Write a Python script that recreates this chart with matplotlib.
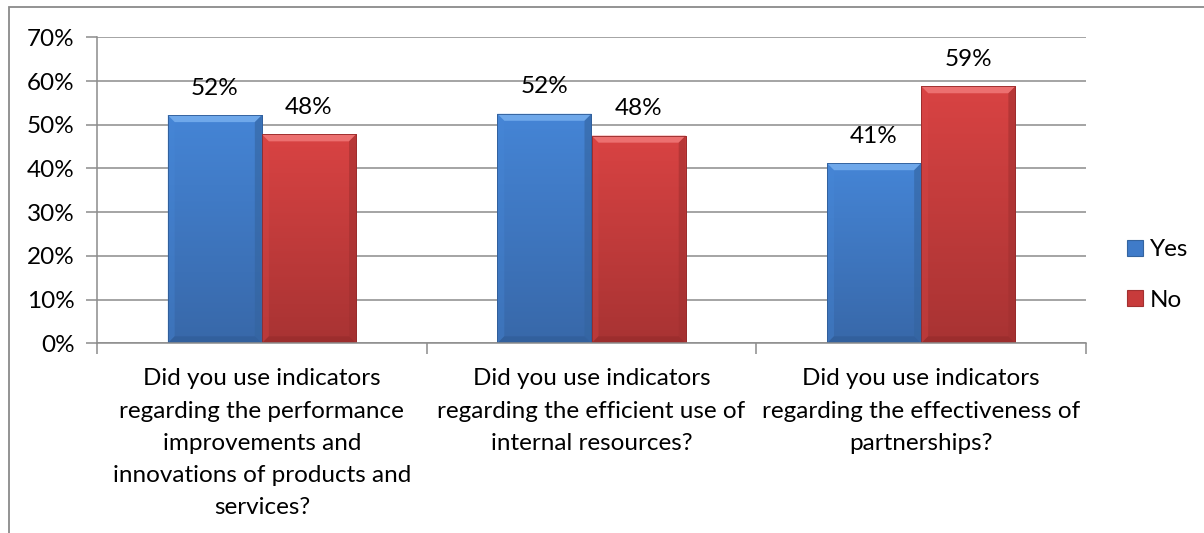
import numpy as np
import matplotlib
matplotlib.use("Agg")
import matplotlib.pyplot as plt
from matplotlib.patches import Polygon, Rectangle, Patch
from matplotlib.colors import LinearSegmentedColormap

# ── Data ──────────────────────────────────────────────────────────────────────
CATEGORIES = [
    "Did you use indicators\nregarding the performance\nimprovements and\ninnovations of products and\nservices?",
    "Did you use indicators\nregarding the efficient use of\ninternal resources?",
    "Did you use indicators\nregarding the effectiveness of\npartnerships?",
]
SERIES   = ["Yes", "No"]
YES_VALS = [52.2, 52.5, 41.2]
NO_VALS  = [47.8, 47.5, 58.8]
Y_TICKS  = [0, 10, 20, 30, 40, 50, 60, 70]

# ── Style ─────────────────────────────────────────────────────────────────────
FONT = "Lato"
FS = 17.5
# (face top, face bottom, top bevel, left bevel, right bevel, bottom bevel, legend)
STYLE = {
    "Yes": ("#4585D6", "#3868A9", "#6FA8EA", "#4788D8", "#34649F", "#2F5B95", "#3F7BC9"),
    "No":  ("#D94343", "#A83333", "#EC7070", "#DA4747", "#A23030", "#952A2A", "#C83B3B"),
}
BEVEL_PX = 7

plt.rcParams["font.family"] = [FONT, "DejaVu Sans"]

fig = plt.figure(figsize=(12.04, 5.33), dpi=100)
fig.patch.set_facecolor("white")
ax = fig.add_axes([97 / 1204, 1 - 343.3 / 533, (1086 - 97) / 1204, (343.3 - 37.3) / 533])

# outer chart border (right/bottom edges lie beyond the image)
fig.patches.append(Rectangle((9 / 1204, -0.1), 1.2, 1 - 7 / 533 + 0.1,
                             transform=fig.transFigure, fill=False,
                             edgecolor="#8a8a8a", linewidth=1.3))

x = np.arange(len(CATEGORIES))
width = 1 / 3.5  # Excel gap width 150%
ax.set_xlim(-0.5, len(CATEGORIES) - 0.5)
ax.set_ylim(0, 70)

bars = {}
bars["Yes"] = ax.bar(x - width / 2, YES_VALS, width, color=STYLE["Yes"][0], zorder=2, linewidth=0)
bars["No"] = ax.bar(x + width / 2, NO_VALS, width, color=STYLE["No"][0], zorder=2, linewidth=0)

# pixel → data conversion for bevels
fig.canvas.draw()
bb = ax.get_window_extent()
dx = BEVEL_PX * (ax.get_xlim()[1] - ax.get_xlim()[0]) / bb.width
dy = BEVEL_PX * (ax.get_ylim()[1] - ax.get_ylim()[0]) / bb.height

grad = np.linspace(1, 0, 256).reshape(-1, 1)
for name, cont in bars.items():
    ftop, fbot, ctop, cleft, cright, cbot, _ = STYLE[name]
    cmap = LinearSegmentedColormap.from_list(name, [fbot, ftop])
    for b in cont:
        x0, w, h = b.get_x(), b.get_width(), b.get_height()
        x1 = x0 + w
        im = ax.imshow(grad, extent=(x0, x1, 0, h), aspect="auto", cmap=cmap,
                       vmin=0, vmax=1, zorder=2.1, interpolation="bilinear")
        im.set_clip_path(b)
        # bevel facets
        ax.add_patch(Polygon([(x0, h), (x1, h), (x1 - dx, h - dy), (x0 + dx, h - dy)],
                             closed=True, facecolor=ctop, edgecolor="none", zorder=2.2))
        ax.add_patch(Polygon([(x0, 0), (x0, h), (x0 + dx, h - dy), (x0 + dx, dy)],
                             closed=True, facecolor=cleft, edgecolor="none", zorder=2.2, alpha=0.35))
        ax.add_patch(Polygon([(x1, 0), (x1, h), (x1 - dx, h - dy), (x1 - dx, dy)],
                             closed=True, facecolor=cright, edgecolor="none", zorder=2.2, alpha=0.6))
        ax.add_patch(Polygon([(x0, 0), (x1, 0), (x1 - dx, dy), (x0 + dx, dy)],
                             closed=True, facecolor=cbot, edgecolor="none", zorder=2.2, alpha=0.6))
        ax.add_patch(Rectangle((x0, 0), w, h, fill=False, edgecolor=cbot,
                               linewidth=0.6, zorder=2.3))
        ax.text(x0 + w / 2, h + 27 * (70 / bb.height), f"{h:.0f}%", ha="center", va="center",
                fontsize=FS, color="black", zorder=3)

ax.set_xlim(-0.5, len(CATEGORIES) - 0.5)
ax.set_ylim(0, 70)

# grid and axes
ax.set_yticks(Y_TICKS)
ax.set_yticklabels([f"{t}%" for t in Y_TICKS], fontsize=FS)
ax.yaxis.grid(True, color="#8c8c8c", linewidth=1.1, zorder=0)
ax.set_axisbelow(True)
ax.tick_params(axis="y", length=8, width=1.1, color="#8c8c8c", pad=8, labelcolor="black")

ax.set_xticks(x)
ax.set_xticklabels(CATEGORIES, fontsize=FS, linespacing=1.66)
ax.set_xticks(np.arange(-0.5, len(CATEGORIES)), minor=True)
ax.tick_params(axis="x", which="major", length=0, pad=18, labelcolor="black")
ax.tick_params(axis="x", which="minor", length=8, width=1.1, color="#8c8c8c")

for s in ["top", "right"]:
    ax.spines[s].set_visible(False)
for s in ["left", "bottom"]:
    ax.spines[s].set_color("#8c8c8c")
    ax.spines[s].set_linewidth(1.1)

handles = [Patch(facecolor=STYLE[n][6], edgecolor=STYLE[n][4], linewidth=0.8) for n in SERIES]
ax.legend(handles, SERIES, loc="center left", bbox_to_anchor=(1127 / 1204, 1 - 275 / 533),
          bbox_transform=fig.transFigure, frameon=False, fontsize=FS,
          handlelength=0.65, handleheight=0.65, handletextpad=0.3,
          labelspacing=1.2, borderpad=0, borderaxespad=0)

fig.savefig("out.png", dpi=100, facecolor="white")
